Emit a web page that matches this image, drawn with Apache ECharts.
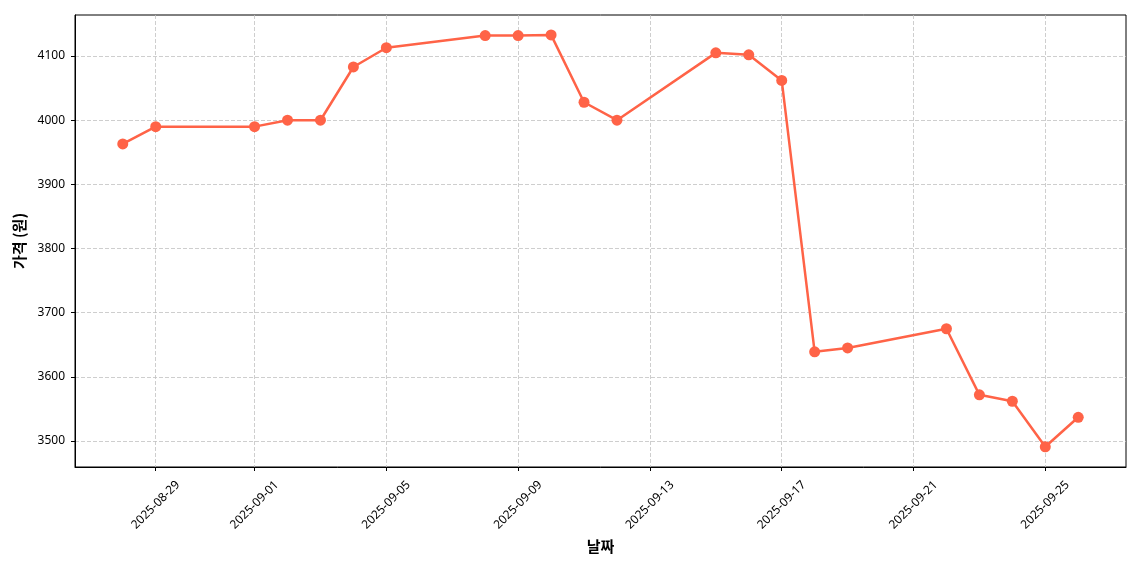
<!DOCTYPE html>
<html>
<head>
<meta charset="utf-8">
<script src="https://cdn.jsdelivr.net/npm/echarts@6/dist/echarts.min.js"></script>
<style>
  html, body { margin: 0; padding: 0; background: #fff; }
  #chart { width: 1140px; height: 570px; }
</style>
</head>
<body>
<div id="chart"></div>
<script>
// price data
const dates = [
  "2025-08-28", "2025-08-29", "2025-09-01", "2025-09-02", "2025-09-03",
  "2025-09-04", "2025-09-05", "2025-09-08", "2025-09-09", "2025-09-10",
  "2025-09-11", "2025-09-12", "2025-09-15", "2025-09-16", "2025-09-17",
  "2025-09-18", "2025-09-19", "2025-09-22", "2025-09-23", "2025-09-24",
  "2025-09-25", "2025-09-26"
];
const prices = [
  3963, 3990, 3990, 4000, 4000,
  4083, 4113, 4132, 4132, 4133,
  4028, 4000, 4105, 4102, 4062,
  3639, 3645, 3675, 3572, 3562,
  3491, 3537
];
const xTicks = [
  "2025-08-29", "2025-09-01", "2025-09-05", "2025-09-09", "2025-09-13",
  "2025-09-17", "2025-09-21", "2025-09-25"
];
const yTicks = [3500, 3600, 3700, 3800, 3900, 4000, 4100];

function ts(s) {
  const p = s.split("-");
  return new Date(+p[0], +p[1] - 1, +p[2]).getTime();
}
function fmt(v) {
  const d = new Date(v);
  const pad = (n) => (n < 10 ? "0" + n : "" + n);
  return d.getFullYear() + "-" + pad(d.getMonth() + 1) + "-" + pad(d.getDate());
}

const first = ts(dates[0]);
const last = ts(dates[dates.length - 1]);
const span = last - first;
const xTickValues = xTicks.map(ts);

const font = "'Noto Sans CJK KR', 'Noto Sans', sans-serif";
const tickFont = "'Noto Sans', 'Open Sans', sans-serif";
const chart = echarts.init(document.getElementById("chart"));

const option = {
  animation: false,
  grid: {
    left: 75,
    right: 14,
    top: 15,
    bottom: 103,
    show: true,
    borderColor: "#000",
    borderWidth: 1,
  },
  xAxis: {
    type: "value",
    min: first - span * 0.05,
    max: last + span * 0.05,
    name: "날짜",
    nameLocation: "middle",
    nameGap: 72,
    nameTextStyle: { fontFamily: font, fontSize: 15, fontWeight: "bold", color: "#000" },
    axisLine: { show: true, lineStyle: { color: "#000", width: 1 } },
    axisTick: { show: true, customValues: xTickValues, length: 4, lineStyle: { color: "#000" } },
    axisLabel: {
      customValues: xTickValues,
      formatter: (v) => fmt(v),
      rotate: 45,
      align: "center",
      verticalAlign: "middle",
      margin: 38,
      fontFamily: tickFont,
      fontSize: 12,
      color: "#000",
      hideOverlap: false,
    },
    splitLine: {
      show: true,
      lineStyle: { color: "#c2c2c2", type: [4, 2], width: 0.8 },
    },
  },
  yAxis: {
    type: "value",
    min: 3459.5,
    max: 4164,
    name: "가격 (원)",
    nameLocation: "middle",
    nameGap: 46,
    nameTextStyle: { fontFamily: font, fontSize: 15, fontWeight: "bold", color: "#000" },
    axisLine: { show: true, lineStyle: { color: "#000", width: 1 } },
    axisTick: { show: true, customValues: yTicks, length: 4, lineStyle: { color: "#000" } },
    axisLabel: {
      customValues: yTicks,
      formatter: (v) => String(v),
      margin: 10,
      fontFamily: tickFont,
      fontSize: 12,
      color: "#000",
    },
    splitLine: {
      show: true,
      lineStyle: { color: "#c2c2c2", type: [4, 2], width: 0.8 },
    },
  },
  series: [
    {
      name: "가격",
      type: "line",
      data: dates.map((d, i) => [ts(d), prices[i]]),
      symbol: "circle",
      symbolSize: 11,
      showAllSymbol: true,
      itemStyle: { color: "#ff6347" },
      lineStyle: { color: "#ff6347", width: 2.5 },
    },
  ],
};

chart.setOption(option);
</script>
</body>
</html>
